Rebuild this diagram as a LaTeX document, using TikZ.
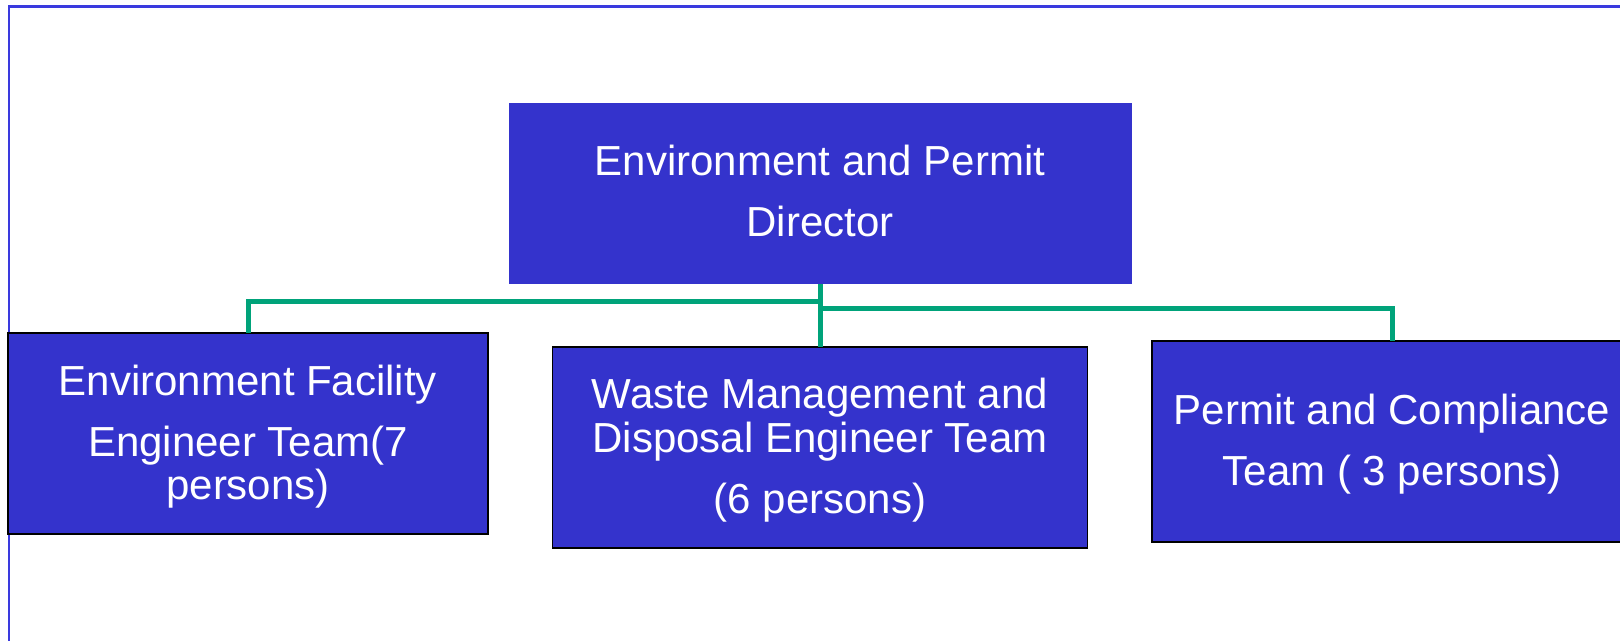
\documentclass[tikz,border=0pt]{standalone}
\usepackage{fontspec}
\setmainfont{Liberation Sans}
\definecolor{boxblue}{RGB}{52,51,204}
\definecolor{conngreen}{RGB}{0,163,122}
\definecolor{frameblue}{RGB}{58,58,222}
\begin{document}
\begin{tikzpicture}[x=0.5pt,y=-0.5pt,
  topbox/.style={fill=boxblue, draw=none, inner sep=0pt, outer sep=0pt,
    minimum width=311.5pt, minimum height=90.5pt},
  teambox/.style={fill=boxblue, draw=black, line width=0.6pt, inner sep=0pt, outer sep=0pt,
    minimum height=100.5pt},
  txt/.style={text=white, font=\fontsize{21}{25}\selectfont, anchor=base, inner sep=0pt},
  conn/.style={draw=conngreen, line width=2.5pt},
  frameline/.style={draw=frameblue, line width=1.3pt}]
\useasboundingbox (0,0) rectangle (1620,641);
\clip (0,0) rectangle (1620,641);
\fill[white] (0,0) rectangle (1620,641);
% frame
\draw[frameline] (8.8,6.7) rectangle (1660,680);
% boxes
\node[topbox] (top) at (820,193.5) {};
\node[teambox, minimum width=240pt] (lbox) at (248,433.5) {};
\node[teambox, minimum width=267.5pt] (mbox) at (820,447.5) {};
\node[teambox, minimum width=240pt] (rbox) at (1392,441.5) {};
% connectors
\coordinate (jl) at (820,302);
\coordinate (jr) at (820,309);
\draw[conn] (top.south) -- (mbox.north);
\draw[conn] (jl) -| (lbox.north);
\draw[conn] (jr) -| (rbox.north);
% texts
\node[txt] (t1) at (820,176) {Environment and Permit};
\node[txt] (t2) at (820,237) {Director};
\node[txt] (l1) at (248,395) {Environment Facility};
\node[txt] (l2) at (248,456) {Engineer Team(7};
\node[txt] (l3) at (248,499) {persons)};
\node[txt] (m1) at (820,408) {Waste Management and};
\node[txt] (m2) at (820,452) {Disposal Engineer Team};
\node[txt] (m3) at (820,513) {(6 persons)};
\node[txt] (r1) at (1392,424) {Permit and Compliance};
\node[txt] (r2) at (1392,485) {Team ( 3 persons)};
\end{tikzpicture}
\end{document}
